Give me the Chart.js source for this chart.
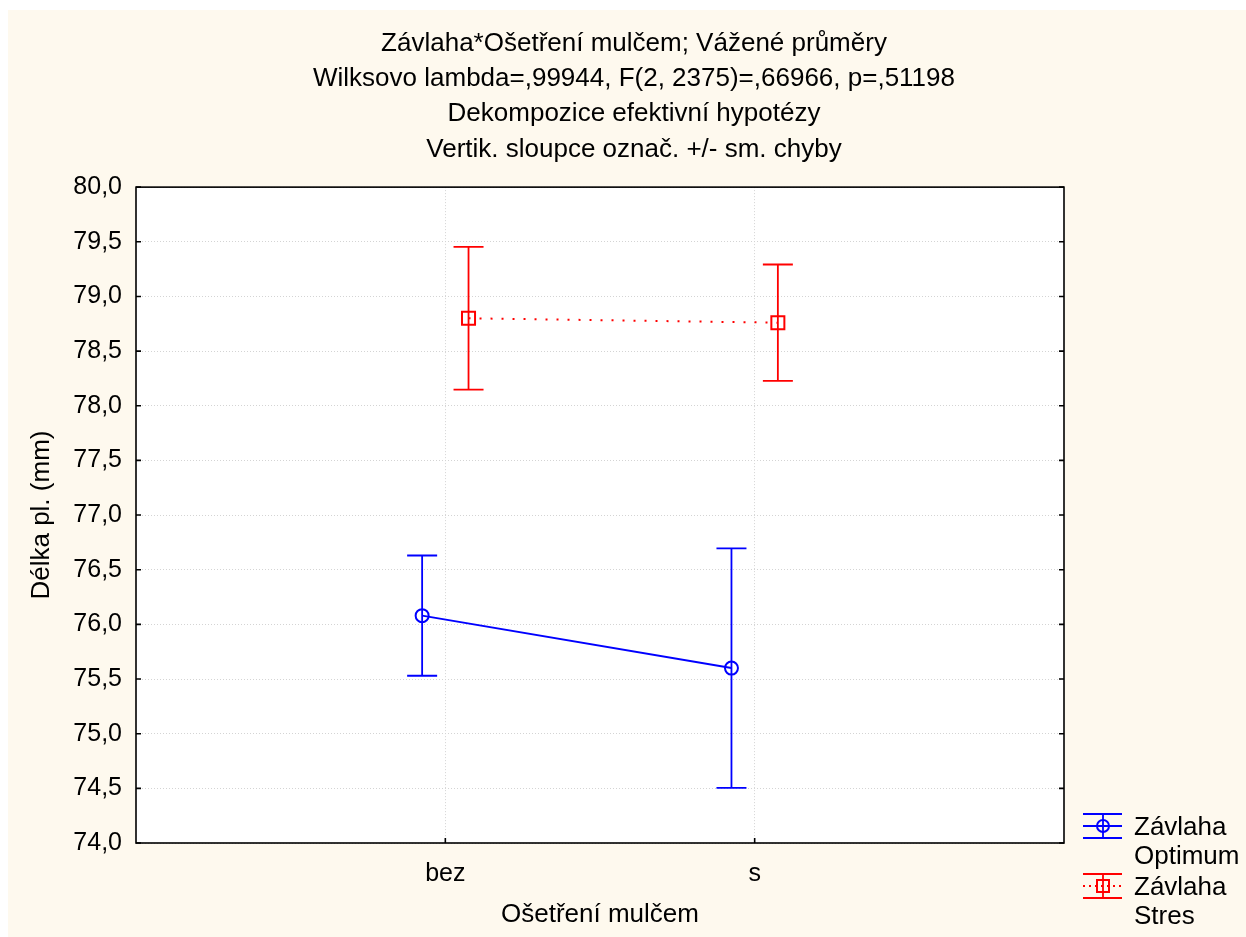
<!DOCTYPE html>
<html>
<head>
<meta charset="utf-8">
<script src="https://cdn.jsdelivr.net/npm/chart.js@4/dist/chart.umd.min.js"></script>
<style>
  html, body { margin: 0; padding: 0; background: #ffffff; }
  #chart { display: block; }
</style>
</head>
<body>
<canvas id="chart" width="1246" height="937"></canvas>
<script>
// data
const groups = ['bez', 's'];
const seriesNames = ['Závlaha Optimum', 'Závlaha Stres'];
const optimumMeans = [76.08, 75.60];
const optimumErrors = [0.55, 1.095];
const stresMeans = [78.80, 78.76];
const stresErrors = [0.653, 0.532];
const titleLines = [
  'Závlaha*Ošetření mulčem; Vážené průměry',
  'Wilksovo lambda=,99944, F(2, 2375)=,66966, p=,51198',
  'Dekompozice efektivní hypotézy',
  'Vertik. sloupce označ. +/- sm. chyby'
];
const yMin = 74, yMax = 80, yStep = 0.5;

const FONT = '"Liberation Sans", Arial, sans-serif';
const cream = '#fef9ee';
const gridColor = '#d4d4d4';

function points(means, shift) {
  return means.map((m, i) => ({ x: i + 1 + shift, y: m }));
}

// cream page + white plot area
const background = {
  id: 'background',
  beforeDraw(chart) {
    const ctx = chart.ctx, a = chart.chartArea;
    ctx.save();
    ctx.fillStyle = '#ffffff';
    ctx.fillRect(0, 0, chart.width, chart.height);
    ctx.fillStyle = cream;
    ctx.fillRect(8, 10, chart.width - 8, chart.height - 10);
    ctx.fillStyle = '#ffffff';
    ctx.fillRect(a.left, a.top, a.right - a.left, a.bottom - a.top);
    ctx.restore();
  }
};

// vertical +/- error bars
const errorBars = {
  id: 'errorBars',
  afterDatasetsDraw(chart) {
    const ctx = chart.ctx, y = chart.scales.y;
    ctx.save();
    chart.data.datasets.forEach((ds, di) => {
      const meta = chart.getDatasetMeta(di);
      ctx.strokeStyle = ds.borderColor;
      ctx.lineWidth = 1.8;
      ctx.setLineDash([]);
      meta.data.forEach((pt, i) => {
        const v = ds.data[i].y, e = ds.errors[i];
        const top = y.getPixelForValue(v + e), bot = y.getPixelForValue(v - e);
        ctx.beginPath();
        ctx.moveTo(pt.x, top); ctx.lineTo(pt.x, bot);
        ctx.moveTo(pt.x - 15, top); ctx.lineTo(pt.x + 15, top);
        ctx.moveTo(pt.x - 15, bot); ctx.lineTo(pt.x + 15, bot);
        ctx.stroke();
      });
    });
    ctx.restore();
  }
};

// frame, inside ticks and the legend
const frame = {
  id: 'frame',
  afterDraw(chart) {
    const ctx = chart.ctx, a = chart.chartArea;
    const xs = chart.scales.x, ys = chart.scales.y;
    ctx.save();
    ctx.strokeStyle = '#000000';
    ctx.lineWidth = 1.6;
    ctx.setLineDash([]);
    ctx.strokeRect(a.left, a.top, a.right - a.left, a.bottom - a.top);
    ctx.beginPath();
    ys.ticks.forEach(t => {
      const py = ys.getPixelForValue(t.value);
      ctx.moveTo(a.left, py); ctx.lineTo(a.left + 5, py);
      ctx.moveTo(a.right, py); ctx.lineTo(a.right - 5, py);
    });
    xs.ticks.forEach(t => {
      const px = xs.getPixelForValue(t.value);
      ctx.moveTo(px, a.bottom); ctx.lineTo(px, a.bottom - 5);
    });
    ctx.stroke();

    // legend
    const lx = a.right + 19, tx = a.right + 70;
    ctx.font = '26px ' + FONT;
    ctx.textAlign = 'left';
    ctx.textBaseline = 'alphabetic';
    chart.data.datasets.forEach((ds, i) => {
      const cy = a.bottom - 17 + i * 60;
      const cx = lx + 20;
      ctx.strokeStyle = ds.borderColor;
      ctx.lineWidth = 1.8;
      ctx.setLineDash([]);
      ctx.beginPath();
      ctx.moveTo(lx, cy - 12); ctx.lineTo(lx + 39, cy - 12);
      ctx.moveTo(lx, cy + 12); ctx.lineTo(lx + 39, cy + 12);
      ctx.moveTo(cx, cy - 12); ctx.lineTo(cx, cy + 12);
      ctx.stroke();
      ctx.setLineDash(ds.borderDash && ds.borderDash.length ? [2, 4] : []);
      ctx.beginPath();
      ctx.moveTo(lx, cy); ctx.lineTo(lx + 39, cy);
      ctx.stroke();
      ctx.setLineDash([]);
      ctx.lineWidth = 2;
      ctx.beginPath();
      if (ds.pointStyle === 'rect') ctx.rect(cx - 6, cy - 6, 12, 12);
      else ctx.arc(cx, cy, 6, 0, Math.PI * 2);
      ctx.stroke();
      ctx.fillStyle = '#000000';
      const words = ds.label.split(' ');
      ctx.fillText(words[0], tx, cy + 9);
      ctx.fillText(words.slice(1).join(' '), tx, cy + 38);
    });
    ctx.restore();
  }
};

new Chart(document.getElementById('chart').getContext('2d'), {
  type: 'line',
  data: {
    datasets: [
      {
        label: seriesNames[0],
        data: points(optimumMeans, -0.075),
        errors: optimumErrors,
        borderColor: '#0000ff',
        borderWidth: 2,
        pointStyle: 'circle',
        pointRadius: 6.5,
        pointBorderWidth: 2,
        pointBackgroundColor: 'rgba(0,0,0,0)',
        pointBorderColor: '#0000ff'
      },
      {
        label: seriesNames[1],
        data: points(stresMeans, 0.075),
        errors: stresErrors,
        borderColor: '#ff0000',
        borderWidth: 2,
        borderDash: [2, 9],
        pointStyle: 'rect',
        pointRadius: 9.2,
        pointBorderWidth: 2,
        pointBackgroundColor: 'rgba(0,0,0,0)',
        pointBorderColor: '#ff0000'
      }
    ]
  },
  options: {
    responsive: false,
    animation: false,
    events: [],
    devicePixelRatio: 1,
    layout: { padding: { left: 22, top: 10, right: 0, bottom: 0 } },
    plugins: {
      legend: { display: false },
      tooltip: { enabled: false },
      title: {
        display: true,
        text: titleLines,
        color: '#000000',
        font: { family: FONT, size: 26, weight: 'normal', lineHeight: 1.357 },
        padding: { top: 16, bottom: 20 }
      }
    },
    scales: {
      x: {
        type: 'linear',
        min: 0,
        max: groups.length + 1,
        afterBuildTicks(s) { s.ticks = groups.map((g, i) => ({ value: i + 1 })); },
        afterFit(s) { s.height = 94; },
        ticks: {
          callback: v => groups[Math.round(v) - 1],
          color: '#000000',
          font: { family: FONT, size: 25 },
          padding: 16,
          maxRotation: 0
        },
        grid: { color: gridColor, lineWidth: 1, drawTicks: false },
        border: { display: false, dash: [1, 2] },
        title: {
          display: true,
          text: 'Ošetření mulčem',
          color: '#000000',
          font: { family: FONT, size: 26 },
          padding: { top: 0, bottom: 7 }
        }
      },
      y: {
        type: 'linear',
        position: 'left',
        min: yMin,
        max: yMax,
        afterFit(s) { s.width = 114; },
        ticks: {
          stepSize: yStep,
          callback: v => v.toFixed(1).replace('.', ','),
          color: '#000000',
          font: { family: FONT, size: 25 },
          padding: 14
        },
        grid: { color: gridColor, lineWidth: 1, drawTicks: false },
        border: { display: false, dash: [1, 2] },
        title: {
          display: true,
          text: 'Délka pl. (mm)',
          color: '#000000',
          font: { family: FONT, size: 26 },
          padding: { top: 4, bottom: 0 }
        }
      },
      // empty right strip that holds the legend
      side: {
        type: 'linear',
        position: 'right',
        afterFit(s) { s.width = 182; },
        ticks: { display: false },
        grid: { drawOnChartArea: false, drawTicks: false },
        border: { display: false }
      }
    }
  },
  plugins: [background, errorBars, frame]
});
</script>
</body>
</html>
